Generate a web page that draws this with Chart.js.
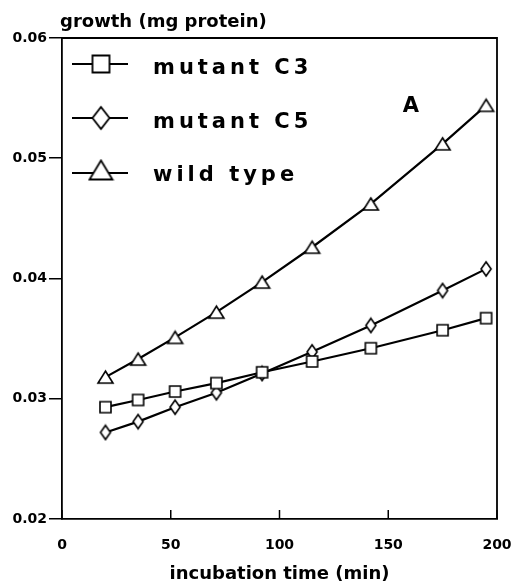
<!DOCTYPE html>
<html>
<head>
<meta charset="utf-8">
<script src="https://cdn.jsdelivr.net/npm/chart.js@4.4.0/dist/chart.umd.min.js"></script>
<style>
  html, body { margin: 0; padding: 0; background: #fff; }
</style>
</head>
<body>
<canvas id="growth-chart" width="515" height="582"></canvas>
<script>
// values
var times = [20, 35, 52, 71, 92, 115, 142, 175, 195];
var mutantC3 = [0.0293, 0.0299, 0.0306, 0.0313, 0.0322, 0.0331, 0.0342, 0.0357, 0.0367];
var mutantC5 = [0.0272, 0.0281, 0.0293, 0.0305, 0.0321, 0.0339, 0.0361, 0.0390, 0.0408];
var wildType = [0.0318, 0.0333, 0.0351, 0.0372, 0.0397, 0.0426, 0.0462, 0.0512, 0.0544];
var seriesNames = ['mutant C3', 'mutant C5', 'wild type'];
var xTicks = [0, 50, 100, 150, 200];
var yTicks = [0.02, 0.03, 0.04, 0.05, 0.06];

var FONT = "'DejaVu Sans', sans-serif";

// small white-filled markers drawn on their own canvas
function makeMarker(shape, w, h, lw) {
    var c = document.createElement('canvas');
    c.width = w + 4;
    c.height = h + 4;
    var g = c.getContext('2d');
    g.fillStyle = '#fff';
    g.strokeStyle = '#000';
    g.lineWidth = lw;
    g.beginPath();
    var l = 2, t = 2, r = w + 2, b = h + 2, cx = c.width / 2, cy = c.height / 2;
    if (shape == 'square') {
        g.rect(l, t, w, h);
    } else if (shape == 'diamond') {
        g.moveTo(cx, t); g.lineTo(r, cy); g.lineTo(cx, b); g.lineTo(l, cy); g.closePath();
    } else {
        g.moveTo(cx, t); g.lineTo(r, b); g.lineTo(l, b); g.closePath();
    }
    g.fill();
    g.stroke();
    return c;
}

var markers = [makeMarker('square', 11, 11, 1.6), makeMarker('diamond', 10, 14, 1.6), makeMarker('triangle', 15, 12, 1.6)];
var legendMarkers = [makeMarker('square', 17, 17, 1.8), makeMarker('diamond', 17, 22, 1.8), makeMarker('triangle', 23, 19, 1.8)];

function toPoints(values) {
    return values.map(function(v, i) { return {x: times[i], y: v}; });
}

var decorations = {
    id: 'decorations',
    afterDraw: function(chart) {
        var ctx = chart.ctx;
        var area = chart.chartArea;
        var xs = chart.scales.x;
        ctx.save();
        ctx.strokeStyle = '#000';
        ctx.lineWidth = 1.8;

        // top and right side of the frame
        ctx.beginPath();
        ctx.moveTo(area.left, area.top);
        ctx.lineTo(area.right, area.top);
        ctx.lineTo(area.right, area.bottom);
        ctx.stroke();

        // x ticks point up into the plot
        ctx.lineWidth = 1.5;
        xs.ticks.forEach(function(t) {
            var px = xs.getPixelForValue(t.value);
            ctx.beginPath();
            ctx.moveTo(px, area.bottom);
            ctx.lineTo(px, area.bottom - 9);
            ctx.stroke();
        });

        ctx.fillStyle = '#000';
        ctx.textBaseline = 'alphabetic';

        // legend
        var lineY = [64, 118, 173];
        var markY = [64, 118, 170];
        var textY = [74, 128, 181];
        chart.data.datasets.forEach(function(ds, i) {
            ctx.lineWidth = 2.2;
            ctx.beginPath();
            ctx.moveTo(72, lineY[i]);
            ctx.lineTo(128, lineY[i]);
            ctx.stroke();
            var m = legendMarkers[i];
            ctx.drawImage(m, 101 - m.width / 2, markY[i] - m.height / 2);
            ctx.font = 'bold 21px ' + FONT;
            ctx.letterSpacing = '4px';
            ctx.textAlign = 'left';
            ctx.fillText(ds.label, 153, textY[i]);
        });

        // y title on top, x title below
        ctx.font = 'bold 18px ' + FONT;
        ctx.letterSpacing = '0px';
        ctx.textAlign = 'left';
        ctx.fillText('growth (mg protein)', 60, 27);

        ctx.textAlign = 'center';
        ctx.fillText('incubation time (min)', (area.left + area.right) / 2, 579);

        // panel letter
        ctx.font = 'bold 21px ' + FONT;
        ctx.fillText('A', 411, 112);
        ctx.restore();
    }
};

function makeDataset(label, values, i) {
    return {
        label: label,
        data: toPoints(values),
        borderColor: '#000',
        borderWidth: 2.2,
        pointStyle: markers[i],
        pointRadius: 7,
        tension: 0,
        fill: false
    };
}

var ctx = document.getElementById('growth-chart').getContext('2d');
var chart = new Chart(ctx, {
    type: 'line',
    data: {
        datasets: [
            makeDataset(seriesNames[0], mutantC3, 0),
            makeDataset(seriesNames[1], mutantC5, 1),
            makeDataset(seriesNames[2], wildType, 2)
        ]
    },
    options: {
        responsive: false,
        animation: false,
        devicePixelRatio: 1,
        layout: { padding: { top: 38, right: 3, left: 0, bottom: 0 } },
        plugins: { legend: { display: false }, tooltip: { enabled: false } },
        scales: {
            x: {
                type: 'linear',
                min: 0,
                max: 200,
                afterBuildTicks: function(scale) {
                    scale.ticks = xTicks.map(function(v) { return {value: v}; });
                },
                afterFit: function(scale) {
                    scale.height = 63;
                    scale.paddingLeft = 0;
                    scale.paddingRight = 18;
                },
                grid: { display: false, drawTicks: false },
                border: { display: true, color: '#000', width: 1.8 },
                ticks: {
                    color: '#000',
                    padding: 18,
                    maxRotation: 0,
                    font: { family: FONT, size: 14, weight: 'bold' }
                }
            },
            y: {
                type: 'linear',
                min: 0.02,
                max: 0.06,
                afterBuildTicks: function(scale) {
                    scale.ticks = yTicks.map(function(v) { return {value: v}; });
                },
                afterFit: function(scale) { scale.width = 62; },
                grid: { display: true, drawOnChartArea: false, drawTicks: true, tickLength: 13, color: '#000', lineWidth: 1.5 },
                border: { display: true, color: '#000', width: 1.8 },
                ticks: {
                    color: '#000',
                    padding: 2,
                    font: { family: FONT, size: 14, weight: 'bold' },
                    callback: function(v) { return v.toFixed(2); }
                }
            }
        }
    },
    plugins: [decorations]
});
</script>
</body>
</html>
